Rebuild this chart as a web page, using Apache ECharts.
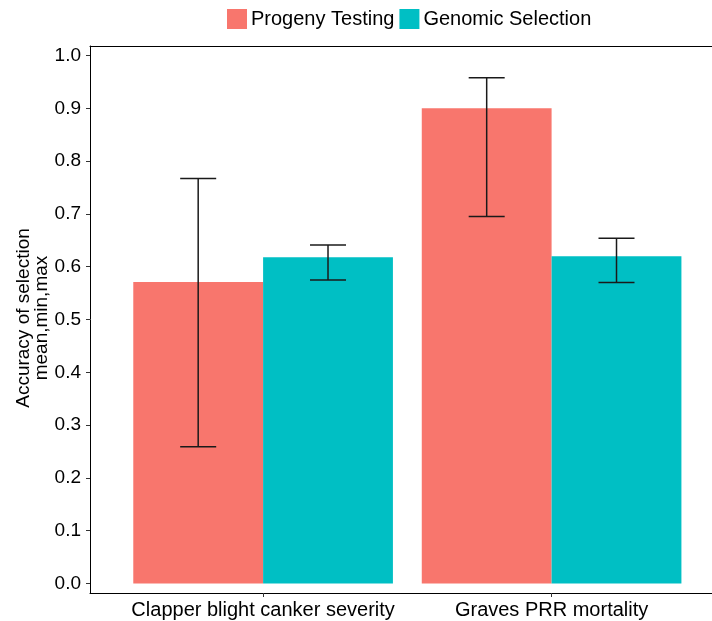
<!DOCTYPE html>
<html lang="en">
<head>
    <meta charset="UTF-8">
    <title>Accuracy of selection</title>
    <script src="https://cdn.jsdelivr.net/npm/echarts@6/dist/echarts.min.js"></script>
    <style>
        body { margin: 0; background: #fff; }
        #main { width: 712px; height: 621px; }
    </style>
</head>
<body>
    <div id="main"></div>
    <script>
        // data
        var categories = ['Clapper blight canker severity', 'Graves PRR mortality'];
        var ptMean = [0.571, 0.900];
        var ptMin = [0.259, 0.695];
        var ptMax = [0.767, 0.958];
        var gsMean = [0.618, 0.620];
        var gsMin = [0.575, 0.570];
        var gsMax = [0.641, 0.654];
        var yTicks = [0, 0.1, 0.2, 0.3, 0.4, 0.5, 0.6, 0.7, 0.8, 0.9, 1.0];

        var font = 'Liberation Sans, Arial, sans-serif';
        var barW = 0.45;

        // x positions 1, 2 for the categories
        var ptData = [], gsData = [], errData = [];
        for (var i = 0; i < categories.length; i++) {
            ptData.push([i + 1, ptMean[i]]);
            gsData.push([i + 1, gsMean[i]]);
            errData.push([i + 1 - barW / 2, ptMin[i], ptMax[i]]);
            errData.push([i + 1 + barW / 2, gsMin[i], gsMax[i]]);
        }

        function barRender(offset) {
            return function (params, api) {
                var x = api.value(0), v = api.value(1);
                var p0 = api.coord([x + offset, v]);
                var p1 = api.coord([x + offset + barW, 0]);
                return {
                    type: 'rect',
                    shape: { x: p0[0], y: p0[1], width: p1[0] - p0[0], height: p1[1] - p0[1] },
                    style: api.style()
                };
            };
        }

        function errRender(params, api) {
            var x = api.value(0);
            var lo = api.coord([x, api.value(1)]);
            var hi = api.coord([x, api.value(2)]);
            var half = 18;
            var st = { stroke: '#1a1a1a', lineWidth: 1.5 };
            return {
                type: 'group',
                children: [
                    { type: 'line', shape: { x1: lo[0], y1: lo[1], x2: hi[0], y2: hi[1] }, style: st },
                    { type: 'line', shape: { x1: lo[0] - half, y1: lo[1], x2: lo[0] + half, y2: lo[1] }, style: st },
                    { type: 'line', shape: { x1: hi[0] - half, y1: hi[1], x2: hi[0] + half, y2: hi[1] }, style: st }
                ]
            };
        }

        var chart = echarts.init(document.getElementById('main'));
        var option = {
            animation: false,
            backgroundColor: '#fff',
            legend: {
                top: 9,
                left: 227,
                padding: 0,
                itemWidth: 20,
                itemHeight: 20,
                itemGap: 5,
                icon: 'rect',
                textStyle: { fontFamily: font, fontSize: 20, color: '#000', padding: [0, 0, 0, -1] },
                data: ['Progeny Testing', 'Genomic Selection']
            },
            grid: {
                left: 90,
                right: 0,
                top: 46,
                bottom: 28
            },
            xAxis: [{
                type: 'value',
                min: 0.4,
                max: 2.556,
                splitLine: { show: false },
                axisLine: { show: true, onZero: false, lineStyle: { color: '#000', width: 1 } },
                axisTick: { show: true, length: 4, customValues: [1, 2], lineStyle: { color: '#333' } },
                axisLabel: {
                    customValues: [1, 2],
                    margin: 7,
                    fontFamily: font,
                    fontSize: 20,
                    color: '#000',
                    formatter: function (v) { return categories[Math.round(v) - 1]; }
                }
            }, {
                // top border of the panel
                type: 'value',
                position: 'top',
                min: 0.4,
                max: 2.556,
                splitLine: { show: false },
                axisLine: { show: true, onZero: false, lineStyle: { color: '#000', width: 1 } },
                axisTick: { show: false },
                axisLabel: { show: false }
            }],
            yAxis: {
                type: 'value',
                min: -0.018,
                max: 1.018,
                splitLine: { show: false },
                axisLine: { show: true, onZero: false, lineStyle: { color: '#000', width: 1 } },
                axisTick: { show: true, length: 4, customValues: yTicks, lineStyle: { color: '#333' } },
                axisLabel: {
                    customValues: yTicks,
                    margin: 9,
                    fontFamily: font,
                    fontSize: 19,
                    color: '#000',
                    formatter: function (v) { return v.toFixed(1); }
                }
            },
            graphic: [{
                type: 'text',
                x: 33,
                y: 318,
                rotation: Math.PI / 2,
                style: {
                    text: 'Accuracy of selection\nmean,min,max',
                    align: 'center',
                    verticalAlign: 'middle',
                    font: '19px ' + font,
                    fill: '#000',
                    lineHeight: 18
                }
            }],
            series: [
                {
                    name: 'Progeny Testing',
                    type: 'custom',
                    itemStyle: { color: '#F8766D' },
                    renderItem: barRender(-barW),
                    encode: { x: 0, y: 1 },
                    data: ptData
                },
                {
                    name: 'Genomic Selection',
                    type: 'custom',
                    itemStyle: { color: '#00BFC4' },
                    renderItem: barRender(0),
                    encode: { x: 0, y: 1 },
                    data: gsData
                },
                {
                    name: 'err',
                    type: 'custom',
                    z: 5,
                    renderItem: errRender,
                    encode: { x: 0, y: [1, 2] },
                    data: errData
                }
            ]
        };
        chart.setOption(option);
    </script>
</body>
</html>
